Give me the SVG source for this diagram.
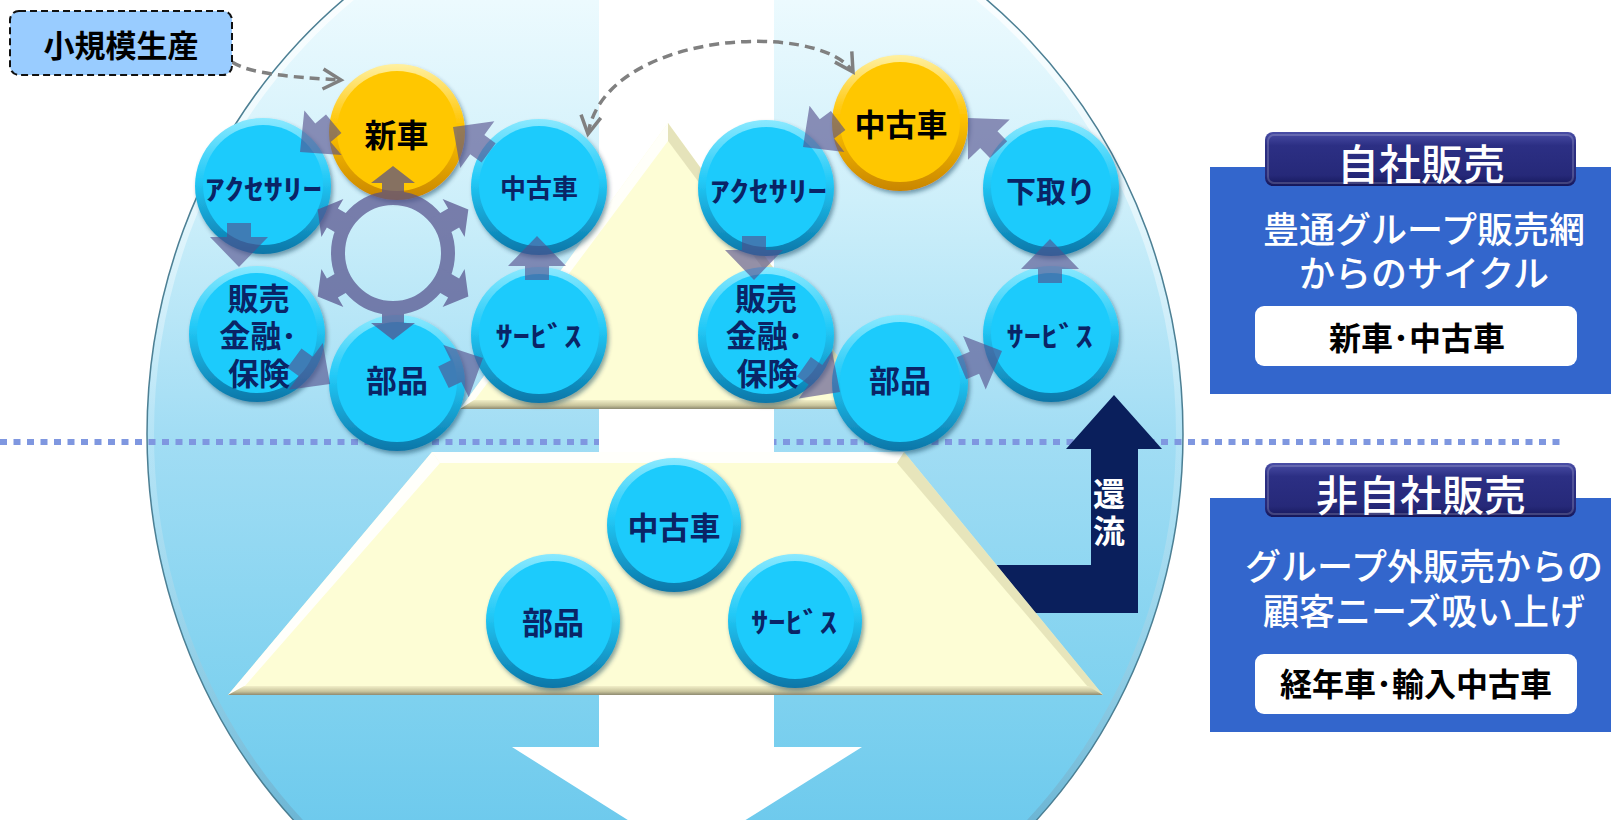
<svg xmlns="http://www.w3.org/2000/svg" width="1611" height="820" viewBox="0 0 1611 820">
<defs>
<style>
.t{font-family:"Noto Sans CJK JP","Noto Sans CJK SC",sans-serif;font-weight:700;text-anchor:middle}
.tn{fill:#0a2466}
.tk{fill:#000}
.tw{fill:#fff;font-weight:500}
.rb{fill:url(#rimB)}
.rg{fill:url(#rimG)}
.fb{fill:#1ccbfc}
.fg{fill:#ffc700}
.cyc{fill:#544e8a;opacity:0.62}
.dash{fill:none;stroke:#808080;stroke-width:3.5;stroke-dasharray:10 6}
</style>
<linearGradient id="bg" gradientUnits="userSpaceOnUse" x1="0" y1="-120" x2="0" y2="988">
<stop offset="0" stop-color="#f6fdff"/>
<stop offset="0.11" stop-color="#ecfafe"/>
<stop offset="0.29" stop-color="#cdeffa"/>
<stop offset="0.5" stop-color="#a2ddf4"/>
<stop offset="0.74" stop-color="#7ed1ef"/>
<stop offset="0.85" stop-color="#6ecaed"/>
<stop offset="1" stop-color="#62c4ea"/>
</linearGradient>
<linearGradient id="edge" x1="0" y1="0" x2="0" y2="1">
<stop offset="0" stop-color="#ffffff" stop-opacity="0.85"/>
<stop offset="0.5" stop-color="#ffffff" stop-opacity="0.2"/>
<stop offset="1" stop-color="#2d7fa6" stop-opacity="0.7"/>
</linearGradient>
<linearGradient id="rimB" x1="0" y1="0" x2="0" y2="1">
<stop offset="0" stop-color="#8ae9ff"/>
<stop offset="0.45" stop-color="#22c9f7"/>
<stop offset="1" stop-color="#0a76a8"/>
</linearGradient>
<linearGradient id="rimG" x1="0" y1="0" x2="0" y2="1">
<stop offset="0" stop-color="#fff0a0"/>
<stop offset="0.45" stop-color="#ffc400"/>
<stop offset="1" stop-color="#c98600"/>
</linearGradient>
<linearGradient id="tan" x1="0" y1="0" x2="0" y2="1">
<stop offset="0" stop-color="#f2efc8"/>
<stop offset="0.6" stop-color="#c8c49c"/>
<stop offset="1" stop-color="#8e8a70"/>
</linearGradient>
<linearGradient id="tab" x1="0" y1="0" x2="0" y2="1">
<stop offset="0" stop-color="#4a4ea6"/>
<stop offset="0.25" stop-color="#2c2f84"/>
<stop offset="0.8" stop-color="#262979"/>
<stop offset="1" stop-color="#15175a"/>
</linearGradient>
<filter id="sh" x="-20%" y="-20%" width="150%" height="150%">
<feDropShadow dx="2" dy="3" stdDeviation="2" flood-color="#00324f" flood-opacity="0.45"/>
</filter>
<marker id="chev" markerUnits="userSpaceOnUse" viewBox="-22 -14 26 28" markerWidth="26" markerHeight="28" refX="0" refY="0" orient="auto-start-reverse">
<path d="M-18,-10 L0,0 L-18,10" fill="none" stroke="#808080" stroke-width="3.5"/>
</marker>
<path id="cy" d="M0,0 L-30,-29 L-30,-12 L-44,-12 L-44,12 L-30,12 L-30,29 Z"/>
<path id="ra" d="M0,-87 L22,-70 L11,-70 L11,-50 L-11,-50 L-11,-70 L-22,-70 Z"/>
</defs>

<!-- background ellipse -->
<g id="backdrop">
<ellipse cx="665" cy="434" rx="518" ry="554" fill="url(#bg)"/>
<ellipse cx="665" cy="434" rx="514" ry="550" fill="none" stroke="url(#edge)" stroke-width="6"/>
<ellipse cx="665" cy="434" rx="518" ry="554" fill="none" stroke="#4d7f93" stroke-width="1.5"/>
</g>

<!-- dotted divider -->
<line id="divider" x1="0" y1="442" x2="1565" y2="442" stroke="#7f97e0" stroke-width="6" stroke-dasharray="7 6.5"/>

<!-- big white arrow -->
<polygon id="down-arrow" points="599,0 774,0 774,747 862,747 686.5,857 512,747 599,747" fill="#ffffff"/>

<!-- upper triangle -->
<g id="upper-pyramid">
<polygon points="668,123 876,409 460,409" fill="#fdfdd5"/>
<polygon points="668,123 668,141 474,401 460,409" fill="#ffffff" opacity="0.85"/>
<polygon points="668,123 876,409 862,401 668,141" fill="#d6d2a8" opacity="0.6"/>
<polygon points="460,409 876,409 862,400 474,400" fill="url(#tan)"/>
</g>

<!-- return arrow -->
<g id="kanryu">
<polygon points="960,565 1091,565 1091,449 1066,449 1114,395 1162,449 1138,449 1138,613 960,613" fill="#0a1f5c"/>
<text class="t" x="1109" y="515" font-size="32" fill="#ffffff" style="writing-mode:vertical-rl;letter-spacing:5px">還流</text>
</g>

<!-- lower trapezoid -->
<g id="lower-pyramid">
<polygon points="432,452 904,452 1103,695 228,695" fill="#fdfdd5"/>
<polygon points="432,452 904,452 897,463 440,463" fill="#ffffff" opacity="0.9"/>
<polygon points="432,452 440,463 244,687 228,695" fill="#ffffff" opacity="0.9"/>
<polygon points="904,452 1103,695 1088,687 897,463" fill="#d9d5aa" opacity="0.6"/>
<polygon points="228,695 1103,695 1088,686 244,686" fill="url(#tan)"/>
</g>

<!-- left cycle nodes -->
<g id="L-shinsha" transform="translate(397,132)">
<circle r="68" class="rg" filter="url(#sh)"/><circle cy="-1" r="60" class="fg"/>
<text class="t tk" x="-0.5" y="14.5" font-size="32">新車</text>
</g>
<g id="L-accessory" transform="translate(263,186)">
<circle r="68" class="rb" filter="url(#sh)"/><circle cy="-1" r="60" class="fb"/>
<text class="t tn" x="0.5" y="13.6" font-size="28" textLength="117" lengthAdjust="spacingAndGlyphs">ｱｸｾｻﾘｰ</text>
</g>
<g id="L-used" transform="translate(539,187)">
<circle r="68" class="rb" filter="url(#sh)"/><circle cy="-1" r="60" class="fb"/>
<text class="t tn" x="0" y="10.9" font-size="26">中古車</text>
</g>
<g id="L-finance" transform="translate(257,334)">
<circle r="68" class="rb" filter="url(#sh)"/><circle cy="-1" r="60" class="fb"/>
<text class="t tn" font-size="31"><tspan x="1.5" y="-24.3">販売</tspan><tspan x="1" y="13.2">金融･</tspan><tspan x="2" y="51.2">保険</tspan></text>
</g>
<g id="L-service" transform="translate(539,335)">
<circle r="68" class="rb" filter="url(#sh)"/><circle cy="-1" r="60" class="fb"/>
<text class="t tn" transform="translate(-0.5,11.6) scale(1.23,1)" x="0" y="0" font-size="28">ｻｰﾋﾞｽ</text>
</g>
<g id="L-parts" transform="translate(397,383)">
<circle r="68" class="rb" filter="url(#sh)"/><circle cy="-1" r="60" class="fb"/>
<text class="t tn" x="0" y="9.2" font-size="31">部品</text>
</g>

<!-- right cycle nodes -->
<g id="R-used" transform="translate(900,123)">
<circle r="68" class="rg" filter="url(#sh)"/><circle cy="-1" r="60" class="fg"/>
<text class="t tk" x="1" y="13.2" font-size="31">中古車</text>
</g>
<g id="R-accessory" transform="translate(766,188)">
<circle r="68" class="rb" filter="url(#sh)"/><circle cy="-1" r="60" class="fb"/>
<text class="t tn" x="2.5" y="13.6" font-size="28" textLength="117" lengthAdjust="spacingAndGlyphs">ｱｸｾｻﾘｰ</text>
</g>
<g id="R-tradein" transform="translate(1051,188)">
<circle r="68" class="rb" filter="url(#sh)"/><circle cy="-1" r="60" class="fb"/>
<text class="t tn" x="0" y="14.3" font-size="30">下取り</text>
</g>
<g id="R-finance" transform="translate(766,335)">
<circle r="68" class="rb" filter="url(#sh)"/><circle cy="-1" r="60" class="fb"/>
<text class="t tn" font-size="31"><tspan x="0" y="-25.3">販売</tspan><tspan x="-1.5" y="12.2">金融･</tspan><tspan x="1.5" y="50.2">保険</tspan></text>
</g>
<g id="R-service" transform="translate(1051,334)">
<circle r="68" class="rb" filter="url(#sh)"/><circle cy="-1" r="60" class="fb"/>
<text class="t tn" transform="translate(-1.4,12.6) scale(1.23,1)" x="0" y="0" font-size="28">ｻｰﾋﾞｽ</text>
</g>
<g id="R-parts" transform="translate(900,383)">
<circle r="68" class="rb" filter="url(#sh)"/><circle cy="-1" r="60" class="fb"/>
<text class="t tn" x="0" y="9.2" font-size="31">部品</text>
</g>

<!-- bottom nodes -->
<g id="B-used" transform="translate(674,525)">
<circle r="67" class="rb" filter="url(#sh)"/><circle cy="-1" r="59" class="fb"/>
<text class="t tn" x="0" y="13.7" font-size="31">中古車</text>
</g>
<g id="B-parts" transform="translate(553,621)">
<circle r="67" class="rb" filter="url(#sh)"/><circle cy="-1" r="59" class="fb"/>
<text class="t tn" x="0" y="12.7" font-size="31">部品</text>
</g>
<g id="B-service" transform="translate(795,621)">
<circle r="67" class="rb" filter="url(#sh)"/><circle cy="-1" r="59" class="fb"/>
<text class="t tn" transform="translate(-1,11.6) scale(1.23,1)" x="0" y="0" font-size="28">ｻｰﾋﾞｽ</text>
</g>

<!-- hub ring -->
<g id="hub" fill="#544e8a" opacity="0.7">
<circle cx="393" cy="253" r="55" fill="none" stroke="#544e8a" stroke-width="14"/>
<use href="#ra" transform="translate(393,253)"/>
<use href="#ra" transform="translate(393,253) rotate(60)"/>
<use href="#ra" transform="translate(393,253) rotate(120)"/>
<use href="#ra" transform="translate(393,253) rotate(180)"/>
<use href="#ra" transform="translate(393,253) rotate(240)"/>
<use href="#ra" transform="translate(393,253) rotate(300)"/>
</g>

<!-- connectors -->
<g id="connectors">
<use class="cyc" href="#cy" transform="translate(453,127) rotate(216)"/>
<use class="cyc" href="#cy" transform="translate(300,152) rotate(140)"/>
<use class="cyc" href="#cy" transform="translate(239,267) rotate(90)"/>
<use class="cyc" href="#cy" transform="translate(330,384) rotate(36)"/>
<use class="cyc" href="#cy" transform="translate(483,358) rotate(-26)"/>
<use class="cyc" href="#cy" transform="translate(537,236) rotate(-90)"/>
<use class="cyc" href="#cy" transform="translate(968,118) rotate(226)"/>
<use class="cyc" href="#cy" transform="translate(803,147) rotate(143)"/>
<use class="cyc" href="#cy" transform="translate(754,280) rotate(90)"/>
<use class="cyc" href="#cy" transform="translate(840,392) rotate(35)"/>
<use class="cyc" href="#cy" transform="translate(1002,351) rotate(-23)"/>
<use class="cyc" href="#cy" transform="translate(1050,239) rotate(-90)"/>
<path class="dash" d="M232,62 C245,70 265,76 341,80" marker-end="url(#chev)"/>
<path class="dash" d="M588,134 C605,30 820,20 853,72" marker-start="url(#chev)" marker-end="url(#chev)"/>
</g>

<!-- small production label -->
<g id="small-production">
<rect x="10" y="11" width="222" height="64" rx="9" fill="#99ccff" stroke="#111" stroke-width="2" stroke-dasharray="7 4"/>
<text class="t tk" x="121" y="57" font-size="31">小規模生産</text>
</g>

<!-- right panels -->
<g id="panel-own">
<rect x="1210" y="167" width="401" height="227" fill="#3366cc"/>
<rect x="1265" y="132" width="311" height="54" rx="8" fill="url(#tab)"/>
<rect x="1268" y="135" width="305" height="48" rx="6" fill="none" stroke="#ffffff" stroke-opacity="0.18" stroke-width="2"/>
<text class="t tw" x="1421" y="179.5" font-size="42">自社販売</text>
<text class="t tw" x="1424" y="242.5" font-size="36">豊通グループ販売網</text>
<text class="t tw" x="1424" y="287" font-size="36">からのサイクル</text>
<rect x="1255" y="306" width="322" height="60" rx="9" fill="#ffffff"/>
<text class="t tk" x="1417" y="350" font-size="32">新車･中古車</text>
</g>
<g id="panel-other">
<rect x="1210" y="498" width="401" height="234" fill="#3366cc"/>
<rect x="1265" y="463" width="311" height="54" rx="8" fill="url(#tab)"/>
<rect x="1268" y="466" width="305" height="48" rx="6" fill="none" stroke="#ffffff" stroke-opacity="0.18" stroke-width="2"/>
<text class="t tw" x="1421" y="510.5" font-size="42">非自社販売</text>
<text class="t tw" x="1424" y="580" font-size="36">グループ外販売からの</text>
<text class="t tw" x="1424" y="625" font-size="36">顧客ニーズ吸い上げ</text>
<rect x="1255" y="654" width="322" height="60" rx="9" fill="#ffffff"/>
<text class="t tk" x="1416" y="696" font-size="32">経年車･輸入中古車</text>
</g>
</svg>
